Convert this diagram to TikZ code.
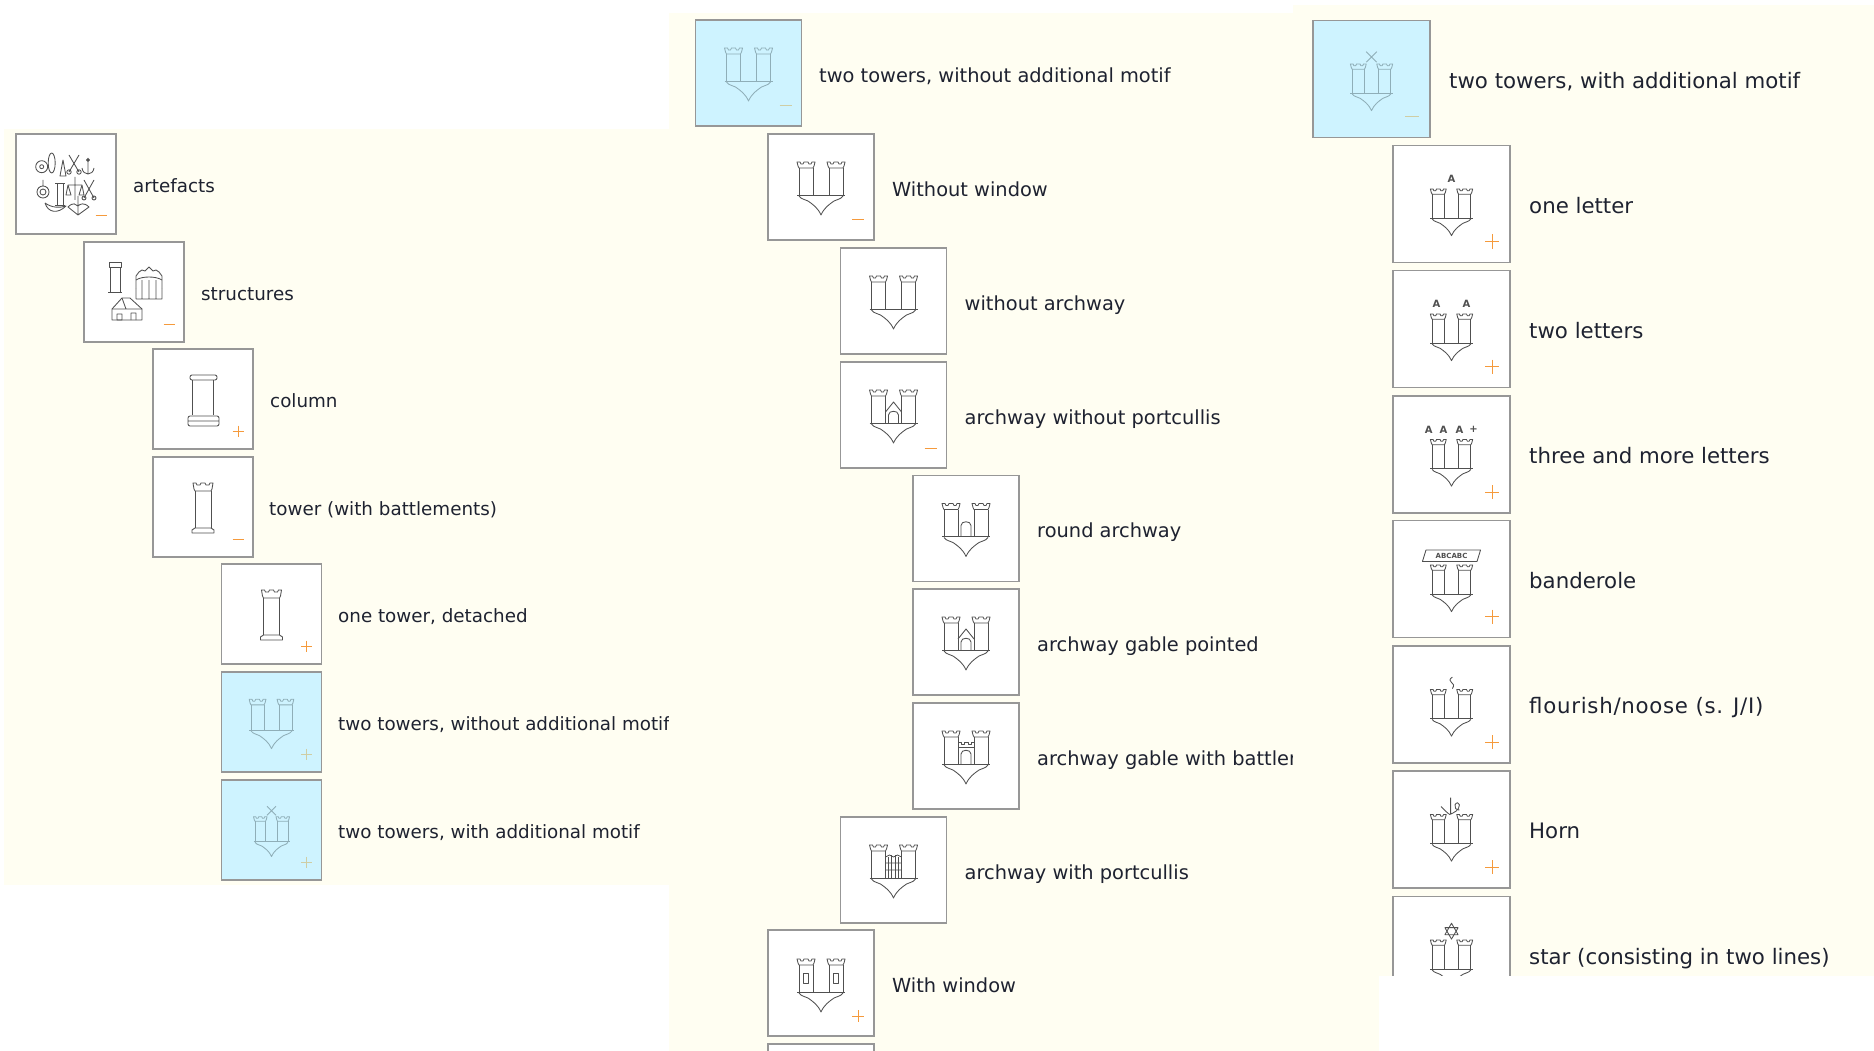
\documentclass[tikz,border=0pt]{standalone}
\usepackage{fontspec}
\setmainfont{DejaVu Sans}

\definecolor{cream}{HTML}{FFFEF2}
\definecolor{framegray}{HTML}{979797}
\definecolor{hitblue}{HTML}{CEF3FF}
\definecolor{inkgray}{HTML}{505050}
\definecolor{fadeink}{HTML}{8FAEB8}
\definecolor{signorange}{HTML}{F59A3C}
\definecolor{fadesign}{HTML}{CFCDA4}
\definecolor{textdark}{HTML}{1E2230}

\tikzstyle{tile} = [draw=framegray, fill=white, line width=1.4pt, inner sep=0pt]
\tikzstyle{tileL} = [tile, minimum size=100pt]
\tikzstyle{tileM} = [tile, minimum size=106pt]
\tikzstyle{tileR} = [tile, minimum size=117pt]
\tikzstyle{hit} = [fill=hitblue]
\tikzstyle{ink} = [line width=0.85pt, line join=round]
\tikzstyle{lab} = [anchor=base west, inner sep=0pt, text=textdark, yshift=-1.2pt]
\tikzstyle{labL} = [lab, font=\fontsize{18.3}{20}\selectfont]
\tikzstyle{labM} = [lab, font=\fontsize{19.4}{21}\selectfont]
\tikzstyle{labR} = [lab, font=\fontsize{21.3}{23}\selectfont]
\tikzstyle{motif} = [inner sep=0pt, text=inkgray, font=\fontsize{10}{10}\selectfont\bfseries]

% crenellated top of a tower, centred on #1
\newcommand{\crenel}[1]{%
	\draw[shift={(#1,0)}] (-9,-33) -- (-8,-29) -- (-7,-27) -- (7,-27) -- (8,-29) -- (9,-33) -- (6,-33) -- (5,-31) -- (3,-31) -- (2,-33) -- (-2,-33) -- (-3,-31) -- (-5,-31) -- (-6,-33) -- cycle;}

% two towers on a shield: x, y of the base line, scale, colour, extras
\newcommand{\castle}[5]{%
	\begin{scope}[shift={(#1,#2)}, scale=#3, ink, draw=#4]
		\draw (-24,0) -- (24,0);
		\draw (-22,-27) -- (-22,0) (-8,-27) -- (-8,0) (8,-27) -- (8,0) (22,-27) -- (22,0);
		\crenel{-15} \crenel{15}
		\draw (-22,1) .. controls (-19,5) and (-16,4) .. (-13,6) .. controls (-8,9.5) and (-3,13) .. (0,20) .. controls (3,13) and (8,9.5) .. (13,6) .. controls (16,4) and (19,5) .. (22,1);
		#5
	\end{scope}}

% door, with or without a round top
\newcommand{\door}[1]{\draw (-5,0) -- (-5,#1) .. controls (-5,#1-5) and (5,#1-5) .. (5,#1) -- (5,0);}

% single tower: centre x, y
\newcommand{\onetower}[2]{%
	\begin{scope}[shift={(#1,#2)}, ink, draw=inkgray]
		\draw (-8,-16) -- (-8,21) (8,-16) -- (8,21);
		\draw (-11,26) -- (-11,23) -- (-8,21) -- (8,21) -- (11,23) -- (11,26) -- cycle;
		\draw (-10,-24) -- (-9,-18) -- (-8,-16) -- (8,-16) -- (9,-18) -- (10,-24) -- (7,-24) -- (6,-22) -- (3,-22) -- (2,-24) -- (-2,-24) -- (-3,-22) -- (-6,-22) -- (-7,-24) -- cycle;
	\end{scope}}

% plus and minus marks, relative to a tile
\newcommand{\minusmark}[5]{\draw[#5, line width=1pt] ([shift={(#2-#4,#3)}]#1.center) -- ([shift={(#2+#4,#3)}]#1.center);}
\newcommand{\plusmark}[5]{\minusmark{#1}{#2}{#3}{#4}{#5}\draw[#5, line width=1pt] ([shift={(#2,#3-#4)}]#1.center) -- ([shift={(#2,#3+#4)}]#1.center);}

\begin{document}
\begin{tikzpicture}[x=1pt, y=-1pt]

	\useasboundingbox (0,0) rectangle (1874,1051);
	\clip (0,0) rectangle (1874,1051);

	% Left panel
	\fill[cream] (4,129) rectangle (670,885);

	\node[tileL] (artefacts) at (66,184) {};
	\node[tileL] (structures) at (134,292) {};
	\node[tileL] (column) at (203,399) {};
	\node[tileL] (tower) at (203,507) {};
	\node[tileL] (detached) at (271.5,614) {};
	\node[tileL, hit] (plainL) at (271.5,722) {};
	\node[tileL, hit] (motifL) at (271.5,830) {};

	\node[labL] (artefactsText) at (133,191.5) {artefacts};
	\node[labL] (structuresText) at (201,299.5) {structures};
	\node[labL] (columnText) at (270,406.5) {column};
	\node[labL] (towerText) at (269,514.5) {tower (with battlements)};
	\node[labL] (detachedText) at (338,621.5) {one tower, detached};
	\node[labL] (plainLText) at (338,729.5) {two towers, without additional motif};
	\node[labL] (motifLText) at (338,837.5) {two towers, with additional motif};

	\minusmark{artefacts}{35}{32}{5.5}{signorange}
	\minusmark{structures}{35}{32}{5.5}{signorange}
	\plusmark{column}{35}{32}{5.5}{signorange}
	\minusmark{tower}{35}{32}{5.5}{signorange}
	\plusmark{detached}{35}{32}{5.5}{signorange}
	\plusmark{plainL}{35}{32}{5.5}{fadesign}
	\plusmark{motifL}{35}{32}{5.5}{fadesign}

	% Icon: artefacts
	\begin{scope}[ink, draw=inkgray]
		\draw (41.7,166.7) circle (6) (41.7,166.7) circle (2);
		\draw (51.7,163) ellipse (3.5 and 10);
		\draw (60,176) -- (66,176) -- (64.5,168) -- (63,160) -- (61.5,168) -- cycle;
		\draw (69,155) -- (79,172) (79,155) -- (69,172) (69,172) circle (2.2) (79,172) circle (2.2);
		\draw (88,158) -- (88,174) (82,168) .. controls (83,176) and (93,176) .. (94,168) (88,160) circle (1.5);
		\draw (43,192) circle (6) (43,192) circle (3) (43,186) -- (43,180);
		\draw (57,183) rectangle (63,205) (55,183) -- (65,183) (55,205) -- (65,205);
		\draw (75,177) -- (75,200) (68,185) -- (82,185) (68,185) -- (66,195) -- (71,195) -- cycle (82,185) -- (79,195) -- (84,195) -- cycle;
		\draw (84,180) -- (94,198) (94,180) -- (84,198) (84,198) circle (2) (94,198) circle (2);
		\draw (45,203) .. controls (48,213) and (58,214) .. (66,206) .. controls (60,208) and (52,208) .. (45,203);
		\draw (68,207) .. controls (73,202) and (76,204) .. (78,206) .. controls (80,204) and (84,202) .. (89,207) -- (78,215) -- cycle (78,196) -- (78,215);
	\end{scope}

	% Icon: structures
	\begin{scope}[ink, draw=inkgray]
		\draw (110,267) rectangle (120,292) (108,292) -- (122,292) (109,267) -- (109,262) -- (121,262) -- (121,267) -- cycle;
		\draw (136,288) -- (136,276) -- (139,272) -- (142,270) -- (145,271) -- (149,267) -- (153,271) -- (156,270) -- (159,272) -- (162,276) -- (162,288);
		\draw (136,299) -- (162,299) (136,288) -- (136,299) (162,288) -- (162,299) (142,299) -- (142,280) (156,299) -- (156,280) (149,299) -- (149,280) (136,280) .. controls (142,276) and (156,276) .. (162,280);
		\draw (112,320) -- (112,309) -- (122,298) -- (130,298) -- (142,309) -- (142,320) -- cycle;
		\draw (112,309) -- (142,309) (122,298) -- (126,309) (131,320) -- (131,313) -- (136,313) -- (136,320) (117,314) rectangle (122,320);
	\end{scope}

	% Icon: column
	\begin{scope}[ink, draw=inkgray]
		\draw[rounded corners=2pt] (190,375) rectangle (217,380);
		\draw (192,380) -- (192,415) (213,380) -- (213,415);
		\draw[rounded corners=2pt] (188,416) rectangle (219,426) (188,421) -- (219,421);
	\end{scope}

	% Icon: towers
	\onetower{203}{507}
	\onetower{271.5}{614}
	\castle{271.5}{730}{0.93}{fadeink}{}
	\castle{271.5}{841.5}{0.75}{fadeink}{\draw (-6,-47) -- (6,-35) (6,-47) -- (-6,-35);}

	% Middle panel
	\fill[cream] (669,13) rectangle (1379,1051);

	\node[tileM, hit] (plainM) at (748.5,73) {};
	\node[tileM] (nowindow) at (821,187) {};
	\node[tileM] (noarchway) at (893.5,301) {};
	\node[tileM] (archway) at (893.5,415) {};
	\node[tileM] (round) at (966,528.5) {};
	\node[tileM] (pointed) at (966,642) {};
	\node[tileM] (battled) at (966,756) {};
	\node[tileM] (portcullis) at (893.5,870) {};
	\node[tileM] (window) at (821,983) {};
	\node[tileM] (next) at (821,1097) {};

	\node[labM] (plainMText) at (819,81) {two towers, without additional motif};
	\node[labM] (nowindowText) at (892,195) {Without window};
	\node[labM] (noarchwayText) at (964.5,309) {without archway};
	\node[labM] (archwayText) at (964.5,423) {archway without portcullis};
	\node[labM] (roundText) at (1037,536.5) {round archway};
	\node[labM] (pointedText) at (1037,650) {archway gable pointed};
	\node[labM] (battledText) at (1037,764) {archway gable with battlements};
	\node[labM] (portcullisText) at (964.5,878) {archway with portcullis};
	\node[labM] (windowText) at (892,991) {With window};

	\minusmark{plainM}{37}{33}{6}{fadesign}
	\minusmark{nowindow}{37}{33}{6}{signorange}
	\minusmark{archway}{37}{33}{6}{signorange}
	\plusmark{window}{37}{33}{6}{signorange}

	\castle{748.5}{81}{1}{fadeink}{}
	\castle{821}{195}{1}{inkgray}{}
	\castle{893.5}{309}{1}{inkgray}{}
	\castle{893.5}{423}{1}{inkgray}{\draw (-8,-11) -- (0,-21) -- (8,-11); \door{-8}}
	\castle{966}{536.5}{1}{inkgray}{\door{-11}}
	\castle{966}{650}{1}{inkgray}{\draw (-8,-11) -- (0,-21) -- (8,-11); \door{-8}}
	\castle{966}{764}{1}{inkgray}{\draw (-8,-17) -- (8,-17) (-8,-22) -- (-5,-22) -- (-5,-20) -- (-2,-20) -- (-2,-22) -- (2,-22) -- (2,-20) -- (5,-20) -- (5,-22) -- (8,-22); \door{-10}}
	\castle{893.5}{878}{1}{inkgray}{\draw (-5,0) -- (-5,-21) (-2,0) -- (-2,-23) (2,0) -- (2,-23) (5,0) -- (5,-21) (-8,-15) -- (8,-15) (-8,-8) -- (8,-8) (-8,-21) -- (-4,-23) -- (0,-21) -- (4,-23) -- (8,-21);}
	\castle{821}{992}{1}{inkgray}{\draw (-17.5,-19) rectangle (-12.5,-9) (12.5,-19) rectangle (17.5,-9);}

	% Right panel
	\fill[cream] (1293,5) rectangle (1874,976);

	\node[tileR, hit] (motifR) at (1371.5,79) {};
	\node[tileR] (oneletter) at (1451.5,204) {};
	\node[tileR] (twoletters) at (1451.5,329) {};
	\node[tileR] (threeletters) at (1451.5,454.5) {};
	\node[tileR] (banderole) at (1451.5,579) {};
	\node[tileR] (flourish) at (1451.5,704.5) {};
	\node[tileR] (horn) at (1451.5,829.5) {};
	\node[tileR] (star) at (1451.5,955) {};

	\node[labR] (motifRText) at (1449,87) {two towers, with additional motif};
	\node[labR] (oneletterText) at (1529,212) {one letter};
	\node[labR] (twolettersText) at (1529,337) {two letters};
	\node[labR] (threelettersText) at (1529,462.5) {three and more letters};
	\node[labR] (banderoleText) at (1529,587) {banderole};
	\node[labR] (flourishText) at (1529,712.5) {\addfontfeature{LetterSpace=3.4}flourish/noose (s. J/I)};
	\node[labR] (hornText) at (1529,837.5) {Horn};
	\node[labR] (starText) at (1529,963) {star (consisting in two lines)};

	\minusmark{motifR}{40.5}{37.5}{7}{fadesign}
	\plusmark{oneletter}{40.5}{37.5}{7}{signorange}
	\plusmark{twoletters}{40.5}{37.5}{7}{signorange}
	\plusmark{threeletters}{40.5}{37.5}{7}{signorange}
	\plusmark{banderole}{40.5}{37.5}{7}{signorange}
	\plusmark{flourish}{40.5}{37.5}{7}{signorange}
	\plusmark{horn}{40.5}{37.5}{7}{signorange}

	\castle{1371.5}{93}{0.88}{fadeink}{\draw (-6,-47) -- (6,-35) (6,-47) -- (-6,-35);}
	\castle{1451.5}{218}{0.88}{inkgray}{\node[motif] (letterA) at (0,-44) {A};}
	\castle{1451.5}{343}{0.88}{inkgray}{\node[motif] (letterB) at (-17,-44) {A}; \node[motif] (letterC) at (17,-44) {A};}
	\castle{1451.5}{468.5}{0.88}{inkgray}{\node[motif] (letterD) at (-26,-44) {A}; \node[motif] (letterE) at (-9,-44) {A}; \node[motif] (letterF) at (9,-44) {A}; \node[motif] (letterG) at (25,-44) {+};}
	\castle{1451.5}{594}{0.88}{inkgray}{\draw (-29,-50) -- (33,-50) -- (29,-37) -- (-33,-37) -- cycle; \node[motif, font=\fontsize{7}{7}\selectfont\bfseries] (bandText) at (0,-43.5) {ABCABC};}
	\castle{1451.5}{718.5}{0.88}{inkgray}{\draw (1,-47) .. controls (-3,-45) and (-2,-42) .. (0,-41) .. controls (3,-40) and (3,-37) .. (1,-34);}
	\castle{1451.5}{843.5}{0.88}{inkgray}{\draw (-1,-52) -- (-1,-33) (-12,-42) .. controls (-8,-38) and (-4,-34) .. (-2,-33) (-2,-33) .. controls (3,-35) and (9,-38) .. (9,-44) .. controls (9,-47) and (5,-47) .. (4,-44) .. controls (3,-41) and (5,-38) .. (9,-38);}
	\castle{1451.5}{969}{0.88}{inkgray}{\draw (0,-52) -- (7.5,-39) -- (-7.5,-39) -- cycle (0,-34) -- (7.5,-47) -- (-7.5,-47) -- cycle;}

	% White corner, cuts the last tile
	\fill[white] (1379,976) rectangle (1874,1051);

\end{tikzpicture}
\end{document}
